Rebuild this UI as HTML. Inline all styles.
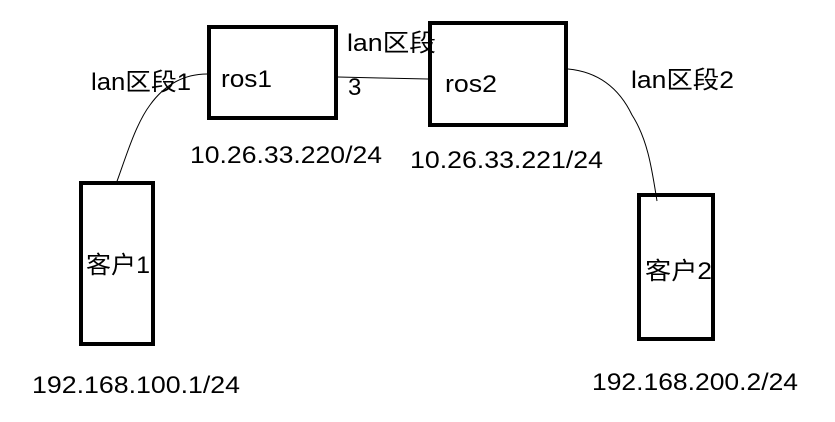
<!DOCTYPE html>
<html><head><meta charset="utf-8"><style>
html,body{margin:0;padding:0;background:#fff;}
svg{display:block;}
text{font-family:"Liberation Sans","Noto Sans CJK SC",sans-serif;font-size:24px;fill:#000;}
</style></head><body>
<svg width="835" height="422" viewBox="0 0 835 422">
<g fill="none" stroke="#000" stroke-width="4">
<rect x="209" y="27" width="127" height="91"/>
<rect x="430" y="23" width="136" height="102"/>
<rect x="81" y="183" width="72" height="161"/>
<rect x="639" y="195" width="74" height="144"/>
</g>
<g fill="none" stroke="#000" stroke-width="1">
<path d="M207,74 C185,74 165,84 150,105 C135,125 125,160 116,184"/>
<path d="M338,77 L380,78 L428,79"/>
<path d="M568,69 C600,72 620,90 632,115 C648,140 652,170 657,201"/>
</g>
<text x="91" y="90" textLength="100" lengthAdjust="spacingAndGlyphs">lan区段1</text>
<text x="221" y="87" textLength="51" lengthAdjust="spacingAndGlyphs">ros1</text>
<text x="347" y="51" textLength="89" lengthAdjust="spacingAndGlyphs">lan区段</text>
<text x="348" y="95">3</text>
<text x="445" y="92" textLength="52" lengthAdjust="spacingAndGlyphs">ros2</text>
<text x="631" y="88" textLength="103" lengthAdjust="spacingAndGlyphs">lan区段2</text>
<text x="190" y="163" textLength="192" lengthAdjust="spacingAndGlyphs">10.26.33.220/24</text>
<text x="410" y="168" textLength="193" lengthAdjust="spacingAndGlyphs">10.26.33.221/24</text>
<text x="86" y="273" textLength="64" lengthAdjust="spacingAndGlyphs">客户1</text>
<text x="645" y="279" textLength="67" lengthAdjust="spacingAndGlyphs">客户2</text>
<text x="32" y="393" textLength="208" lengthAdjust="spacingAndGlyphs">192.168.100.1/24</text>
<text x="592" y="390" textLength="206" lengthAdjust="spacingAndGlyphs">192.168.200.2/24</text>
</svg>
</body></html>
